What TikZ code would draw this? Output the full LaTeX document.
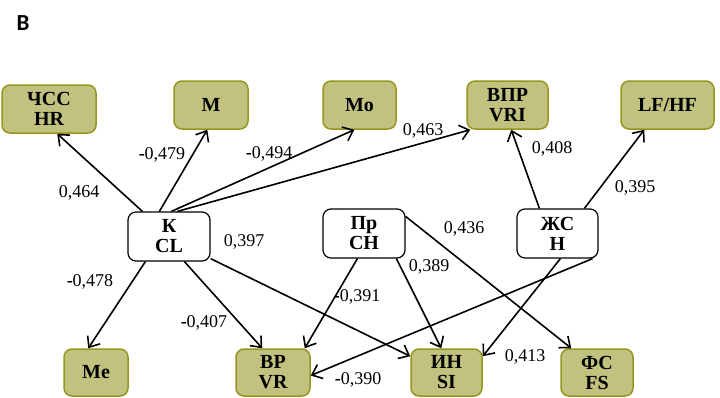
\documentclass[tikz,border=0pt]{standalone}
\usepackage{fontspec}
\setmainfont{Liberation Serif}
\newfontfamily\panelfont{Carlito}
\usetikzlibrary{arrows.meta,calc}
\definecolor{olivefill}{RGB}{194,194,128}
\definecolor{oliveline}{RGB}{150,150,30}
\begin{document}
\begin{tikzpicture}[x=1pt,y=-1pt,
  obox/.style={draw=oliveline, fill=olivefill, line width=1.5pt, rounded corners=8pt,
    minimum height=48pt, align=center, inner sep=0pt,
    font=\fontsize{20}{20}\selectfont\bfseries},
  wbox/.style={draw=black, fill=white, line width=1.2pt, rounded corners=8pt,
    minimum height=49pt, align=center, inner sep=0pt,
    font=\fontsize{20}{20}\selectfont\bfseries},
  lab/.style={font=\fontsize{18}{18}\selectfont, inner sep=0pt},
  arr/.style={-{Straight Barb[length=9pt,width=15pt,line width=1.6pt]}, line width=1.6pt}]
\useasboundingbox (0,0) rectangle (720,397);
\node[font=\panelfont\fontsize{23}{23}\selectfont\bfseries, inner sep=0pt] (panel) at (23,23) {B};
% top row
\node[obox, minimum width=94pt] (HR) at (49,109) {ЧСС\\HR};
\node[obox, minimum width=74pt] (M) at (211,105) {M};
\node[obox, minimum width=73pt] (Mo) at (359.5,105) {Mo};
\node[obox, minimum width=81pt] (VRI) at (507.5,105) {ВПР\\VRI};
\node[obox, minimum width=93pt] (LF) at (667.5,105) {LF/HF};
% middle row
\node[wbox, minimum width=82pt] (CL) at (169,236.5) {К\\CL};
\node[wbox, minimum width=82pt] (CH) at (364,233.5) {Пр\\CH};
\node[wbox, minimum width=81pt] (H) at (557.5,233.5) {ЖС\\H};
% bottom row
\node[obox, minimum width=64pt, minimum height=47pt] (Me) at (96,372.5) {Me};
\node[obox, minimum width=74pt, minimum height=47pt] (VR) at (273,372.5) {ВР\\VR};
\node[obox, minimum width=71pt, minimum height=47pt] (SI) at (446.5,372.5) {ИН\\SI};
\node[obox, minimum width=72pt, minimum height=47pt] (FS) at (597,372.5) {ФС\\FS};
% connectors
\draw[arr] ($(CL.north west)+(15,0)$) -- ($(HR.south west)+(56,0)$);
\draw[arr] ($(CL.north west)+(32,0)$) -- ($(M.south west)+(34,0)$);
\draw[arr] ($(CL.north west)+(44,0)$) -- ($(Mo.south west)+(32,0)$);
\draw[arr] ($(CL.north west)+(50,0)$) -- ($(VRI.south west)+(4,0)$);
\draw[arr] ($(CL.south west)+(18,0)$) -- ($(Me.north west)+(25,0)$);
\draw[arr] ($(CL.south west)+(57,0)$) -- ($(VR.north west)+(27,0)$);
\draw[arr] ($(CL.south east)+(0,-3)$) -- ($(SI.north west)+(0,8)$);
\draw[arr] ($(CH.south west)+(35,0)$) -- ($(VR.north east)+(-6,0)$);
\draw[arr] ($(CH.south west)+(74,0)$) -- ($(SI.north west)+(31,0)$);
\draw[arr] ($(CH.north east)+(0,8)$) -- ($(FS.north west)+(11,0)$);
\draw[arr] ($(H.north west)+(23,0)$) -- ($(VRI.south west)+(45,0)$);
\draw[arr] ($(H.north west)+(68,0)$) -- ($(LF.south west)+(24,0)$);
\draw[arr] ($(H.south west)+(44,0)$) -- ($(SI.north east)+(0,8)$);
\draw[arr] ($(H.south east)+(-6,0)$) -- ($(VR.east)+(0,3)$);
% labels
\node[lab] (l1) at (79,193) {0,464};
\node[lab] (l2) at (162,155) {{\bfseries -}0,479};
\node[lab] (l3) at (269,154) {{\bfseries -}0,494};
\node[lab] (l4) at (423,131) {0,463};
\node[lab] (l5) at (552,149) {0,408};
\node[lab] (l6) at (635,188) {0,395};
\node[lab] (l7) at (244,242) {0,397};
\node[lab] (l8) at (464,229) {0,436};
\node[lab] (l9) at (429,267) {0,389};
\node[lab] (l10) at (357,297) {{\bfseries -}0,391};
\node[lab] (l11) at (90,282) {{\bfseries -}0,478};
\node[lab] (l12) at (204,323) {{\bfseries -}0,407};
\node[lab] (l13) at (358,380) {{\bfseries -}0,390};
\node[lab] (l14) at (525,357) {0,413};
\end{tikzpicture}
\end{document}
